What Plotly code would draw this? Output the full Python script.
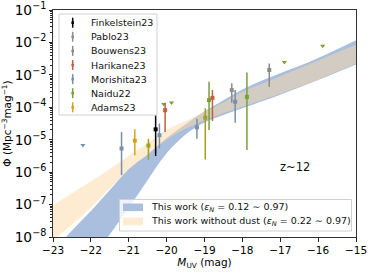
import numpy as np
import plotly.graph_objects as go

# ---------------- data (log10 Phi) ----------------
band_M = [-23, -22.5, -22, -21.5, -21, -20.5, -20, -19.5, -19, -18.5, -18, -17.5, -17, -16.5, -16, -15.5, -15]
dust_hi = [-8.45, -7.80, -7.20, -6.55, -5.90, -5.45, -4.95, -4.52, -4.12, -3.78, -3.45, -3.18, -2.95, -2.73, -2.48, -2.21, -1.93]
dust_lo = [-10.5, -9.6, -8.7, -7.92, -7.10, -6.24, -5.42, -4.84, -4.47, -4.24, -4.03, -3.82, -3.61, -3.39, -3.16, -2.92, -2.68]
nodust_hi = [-7.02, -6.65, -6.28, -5.90, -5.50, -5.10, -4.70, -4.42, -4.14, -3.85, -3.52, -3.28, -3.04, -2.80, -2.56, -2.31, -2.07]
nodust_lo = [-8.10, -7.62, -7.10, -6.50, -5.92, -5.45, -5.00, -4.66, -4.40, -4.18, -3.98, -3.78, -3.58, -3.37, -3.15, -2.90, -2.65]

fink_M = [-20.29]; fink_phi = [-4.68]; fink_hi = [-4.25]; fink_lo = [-5.50]
pablo_M = [-18.28]; pablo_phi = [-3.47]; pablo_hi = [-3.26]; pablo_lo = [-3.86]
bouw_M = [-17.29]; bouw_phi = [-2.85]; bouw_hi = [-2.65]; bouw_lo = [-3.37]
hari_M = [-20.04, -18.79]; hari_phi = [-4.09, -3.71]; hari_hi = [-3.86, -3.47]; hari_lo = [-4.76, -4.42]
mori_M = [-21.19, -20.19, -19.20, -18.19]; mori_phi = [-5.27, -4.86, -4.62, -3.83]
mori_hi = [-4.76, -4.50, -4.35, -3.47]; mori_lo = [-6.09, -5.27, -4.97, -4.48]
mori_lim_M = [-22.21]; mori_lim_phi = [-5.17]
naidu_M = [-18.88, -17.88]; naidu_phi = [-3.78, -3.68]; naidu_hi = [-3.21, -2.93]; naidu_lo = [-4.70, -5.32]
naidu_lim_M = [-20.08, -19.87, -16.89, -15.88]; naidu_lim_phi = [-3.90, -3.86, -2.61, -2.11]
adams_M = [-20.84]; adams_phi = [-5.03]; adams_hi = [-4.68]; adams_lo = [-5.48]
olive_M = [-20.48, -18.98]; olive_phi = [-5.18, -4.32]; olive_hi = [-4.97, -4.03]; olive_lo = [-5.62, -5.61]

names = ["Finkelstein23", "Pablo23", "Bouwens23", "Harikane23", "Morishita23", "Naidu22", "Adams23"]
colors = ["#000000", "#8e8e8e", "#8a8a8a", "#c2603a", "#7b8fa9", "#78a03a", "#d6a21e"]
olive_color = "#a3a01c"
band_labels = ["This work (<i>ε<sub>N</sub></i> = 0.12 ∼ 0.97)",
               "This work without dust (<i>ε<sub>N</sub></i> = 0.22 ∼ 0.97)"]
blue_fill = "rgb(170,191,222)"
beige_fill = "rgba(251,217,165,0.5)"

fig = go.Figure()

def p(v):
    return list(10 ** np.array(v, dtype=float))

# bands
fig.add_trace(go.Scatter(x=band_M, y=p(dust_lo), mode="lines", line=dict(width=0, shape="spline"),
                         showlegend=False, hoverinfo="skip"))
fig.add_trace(go.Scatter(x=band_M, y=p(dust_hi), mode="lines", line=dict(width=0, shape="spline"),
                         fill="tonexty", fillcolor=blue_fill, showlegend=False, name=band_labels[0]))
fig.add_trace(go.Scatter(x=band_M, y=p(nodust_lo), mode="lines", line=dict(width=0, shape="spline"),
                         showlegend=False, hoverinfo="skip"))
fig.add_trace(go.Scatter(x=band_M, y=p(nodust_hi), mode="lines", line=dict(width=0, shape="spline"),
                         fill="tonexty", fillcolor=beige_fill, showlegend=False, name=band_labels[1]))

def add_err(M, phi, hi, lo, color, name):
    y = 10 ** np.array(phi)
    up = 10 ** np.array(hi) - y
    dn = y - 10 ** np.array(lo)
    fig.add_trace(go.Scatter(x=M, y=y, mode="markers", name=name, showlegend=False,
                             marker=dict(symbol="square", size=4, color=color),
                             error_y=dict(type="data", symmetric=False, array=list(up), arrayminus=list(dn),
                                          color=color, thickness=1.5, width=0)))

def add_lim(M, phi, color, name):
    fig.add_trace(go.Scatter(x=M, y=p(phi), mode="markers", name=name, showlegend=False,
                             marker=dict(symbol="triangle-down", size=4.5, color=color)))

add_lim(mori_lim_M, mori_lim_phi, colors[4], names[4])
add_lim(naidu_lim_M, naidu_lim_phi, colors[5], names[5])
add_err(mori_M, mori_phi, mori_hi, mori_lo, colors[4], names[4])
add_err(adams_M, adams_phi, adams_hi, adams_lo, colors[6], names[6])
add_err(olive_M, olive_phi, olive_hi, olive_lo, olive_color, "other")
add_err(naidu_M, naidu_phi, naidu_hi, naidu_lo, colors[5], names[5])
add_err(hari_M, hari_phi, hari_hi, hari_lo, colors[3], names[3])
add_err(pablo_M, pablo_phi, pablo_hi, pablo_lo, colors[1], names[1])
add_err(bouw_M, bouw_phi, bouw_hi, bouw_lo, colors[2], names[2])
add_err(fink_M, fink_phi, fink_hi, fink_lo, colors[0], names[0])

# ---------------- layout ----------------
W, H = 374, 273
L, R, T, B = 53, 18, 10, 36
PW, PH = W - L - R, H - T - B

def px(xp):
    return (xp - L) / PW

def py(yp):
    return (H - B - yp) / PH

shapes = []
annotations = []
FONT = "DejaVu Sans"

# legend 1 (observations)
shapes.append(dict(type="rect", xref="paper", yref="paper", x0=px(59), x1=px(157), y0=py(115), y1=py(14),
                   line=dict(color="#d0d0d0", width=1), fillcolor="rgba(255,255,255,0.8)", layer="above"))
for i, (nm, c) in enumerate(zip(names, colors)):
    yc = 22.7 + 14.1 * i
    shapes.append(dict(type="line", xref="paper", yref="paper", x0=px(72.7), x1=px(72.7),
                       y0=py(yc - 5), y1=py(yc + 5), line=dict(color=c, width=1.5), layer="above"))
    shapes.append(dict(type="rect", xref="paper", yref="paper", x0=px(71.4), x1=px(74.0),
                       y0=py(yc + 1.3), y1=py(yc - 1.3), line=dict(width=0), fillcolor=c, layer="above"))
    annotations.append(dict(text=nm, xref="paper", yref="paper", x=px(89), y=py(yc), xanchor="left",
                            yanchor="middle", showarrow=False, font=dict(family=FONT, size=9.5, color="#111")))

# legend 2 (bands)
shapes.append(dict(type="rect", xref="paper", yref="paper", x0=px(119.5), x1=px(351.5), y0=py(231), y1=py(199.5),
                   line=dict(color="#d0d0d0", width=1), fillcolor="rgba(255,255,255,0.8)", layer="above"))
for i, (lab, fc) in enumerate(zip(band_labels, [blue_fill, beige_fill])):
    yc = 207.3 + 14.0 * i
    shapes.append(dict(type="rect", xref="paper", yref="paper", x0=px(123), x1=px(143),
                       y0=py(yc + 3.8), y1=py(yc - 3.8), line=dict(width=0), fillcolor=fc, layer="above"))
    annotations.append(dict(text=lab, xref="paper", yref="paper", x=px(149), y=py(yc), xanchor="left",
                            yanchor="middle", showarrow=False, font=dict(family=FONT, size=9.5, color="#111")))

annotations.append(dict(text="z~12", xref="paper", yref="paper", x=px(295), y=py(167), xanchor="center",
                        yanchor="middle", showarrow=False, font=dict(family=FONT, size=11.5, color="#111")))

fig.update_layout(
    width=W, height=H, margin=dict(l=L, r=R, t=T, b=B, autoexpand=False),
    paper_bgcolor="white", plot_bgcolor="white",
    font=dict(family=FONT, color="black"),
    showlegend=False, shapes=shapes, annotations=annotations,
    xaxis=dict(range=[-23, -15], dtick=1, tick0=-23, ticks="outside", ticklen=3.5, tickwidth=0.8,
               tickcolor="#222", showgrid=False, zeroline=False, showline=True, linecolor="#333",
               linewidth=1, mirror=True, tickfont=dict(size=10.5), automargin=False,
               title=dict(text="<i>M</i><sub>UV</sub> (mag)", font=dict(size=10.5), standoff=3)),
    yaxis=dict(type="log", range=[-8, -1], dtick=1, exponentformat="power", ticks="outside", ticklen=3.5,
               tickwidth=0.8, tickcolor="#222", showgrid=False, zeroline=False, showline=True,
               linecolor="#333", linewidth=1, mirror=True, tickfont=dict(size=11), automargin=False,
               minor=dict(ticks="outside", ticklen=2, tickcolor="#222", dtick="D1", showgrid=False),
               title=dict(text="Φ (Mpc<sup>−3</sup>mag<sup>−1</sup>)", font=dict(size=10.5), standoff=4)),
)

fig.write_html("out.html", config={"displayModeBar": False},
               post_script="document.body.style.margin='0';document.body.style.padding='0';")
